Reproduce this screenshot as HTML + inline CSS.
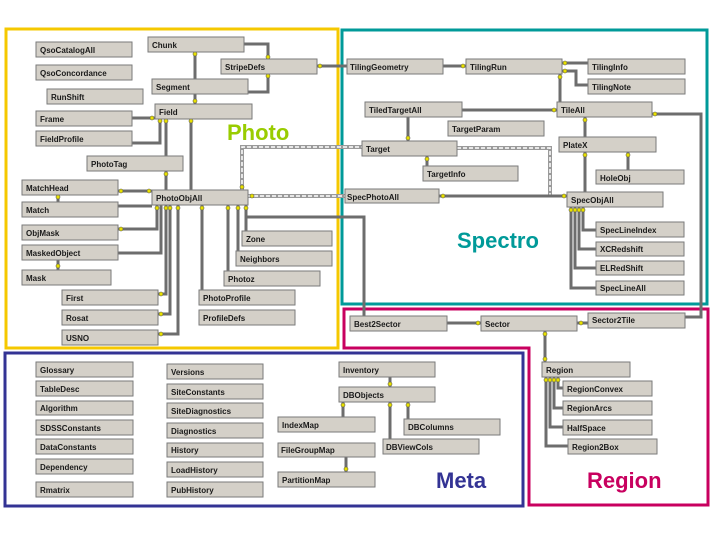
<!DOCTYPE html>
<html><head><meta charset="utf-8"><style>
html,body{margin:0;padding:0;background:#fff}
svg{display:block}
.b rect{fill:#d4d0c8;stroke:#7a7a7a;stroke-width:1}
.b text{font-family:"Liberation Sans",sans-serif;font-size:8px;font-weight:bold;fill:#1a1a1a}
.c{fill:none;stroke:#6d6d6d;stroke-width:3}
.ci{fill:none;stroke:#e6e6e6;stroke-width:1}
.d{fill:none;stroke:#9a9a9a;stroke-width:4}
.di{fill:none;stroke:#fff;stroke-width:1.5;stroke-dasharray:4 2}
.k{fill:#e8e000;stroke:#555;stroke-width:.6}
.t{font-family:"Liberation Sans",sans-serif;font-weight:bold;font-size:22px}
</style></head><body>
<svg width="720" height="540" viewBox="0 0 720 540" xmlns="http://www.w3.org/2000/svg">
<!-- frames -->
<rect x="6" y="29" width="332" height="319" fill="none" stroke="#f5c800" stroke-width="3"/>
<rect x="342" y="30" width="365" height="274" fill="none" stroke="#009a99" stroke-width="3"/>
<path d="M344 309 H708 V505 H529 V348 H344 Z" fill="none" stroke="#c8005f" stroke-width="3"/>
<rect x="5" y="353" width="518" height="153" fill="none" stroke="#333394" stroke-width="3"/>
<text class="t" x="227" y="140" fill="#99cc00">Photo</text>
<text class="t" x="457" y="248" fill="#009a99">Spectro</text>
<text class="t" x="436" y="488" fill="#333394">Meta</text>
<text class="t" x="587" y="488" fill="#c8005f">Region</text>

<!-- dashed double connectors -->
<g>
<path class="d" d="M242 190 V147 H362"/><path class="di" d="M242 190 V147 H362"/>
<path class="d" d="M457 148 H550 V196"/><path class="di" d="M457 148 H550 V196"/>
<path class="d" d="M248 196 H345"/><path class="di" d="M248 196 H345"/>
</g>
<!-- connectors -->
<g id="cn">
<path class="c" d="M244 44 H268 V59"/>
<path class="c" d="M248 92 H268 V74"/>
<path class="c" d="M195 52 V79"/>
<path class="c" d="M195 94 V104"/>
<path class="c" d="M317 66 H347"/>
<path class="c" d="M132 118 H155"/>
<path class="c" d="M132 143 H160 V119"/>
<path class="c" d="M166 119 V156"/>
<path class="c" d="M191 119 V190"/>
<path class="c" d="M166 171 V190"/>
<path class="c" d="M246 205 V217 H364 V316"/>
<path class="c" d="M118 191 H152"/>
<path class="c" d="M118 206 H152"/>
<path class="c" d="M58 195 V202"/>
<path class="c" d="M118 229 H157 V205"/>
<path class="c" d="M118 253 H161 V205"/>
<path class="c" d="M58 260 V270"/>
<path class="c" d="M158 294 H166 V205"/>
<path class="c" d="M158 314 H170 V205"/>
<path class="c" d="M158 334 H178 V205"/>
<path class="c" d="M202 290 V205"/>
<path class="c" d="M228 271 V205"/>
<path class="c" d="M238 251 V205"/>
<path class="c" d="M246 231 V205"/>
<path class="c" d="M443 66 H466"/>
<path class="c" d="M562 63 H588"/>
<path class="c" d="M562 71 H576 V85 H588"/>
<path class="c" d="M560 74 V102"/>
<path class="c" d="M462 110 H557"/>
<path class="c" d="M408 117 V141"/>
<path class="c" d="M427 156 V166"/>
<path class="c" d="M439 196 H567"/>
<path class="c" d="M585 117 V137"/>
<path class="c" d="M628 152 V170"/>
<path class="c" d="M585 152 V192"/>
<path class="c" d="M652 114 H701 V317 H685"/>
<path class="c" d="M583 207 V230 H596"/>
<path class="c" d="M579 207 V249 H596"/>
<path class="c" d="M575 207 V268 H596"/>
<path class="c" d="M571 207 V288 H596"/>
<path class="c" d="M447 323 H481"/>
<path class="c" d="M577 323 H588"/>
<path class="c" d="M545 331 V362"/>
<path class="c" d="M558 377 V388 H563"/>
<path class="c" d="M554 377 V408 H563"/>
<path class="c" d="M550 377 V427 H563"/>
<path class="c" d="M546 377 V446 H568"/>
<path class="c" d="M390 377 V387"/>
<path class="c" d="M343 402 V417"/>
<path class="c" d="M390 402 V439"/>
<path class="c" d="M408 402 V419"/>
<path class="c" d="M346 457 V472"/>
</g>
<!-- key markers -->
<g>
<circle class="k" cx="268" cy="57" r="2"/><circle class="k" cx="268" cy="76" r="2"/>
<circle class="k" cx="195" cy="54" r="2"/><circle class="k" cx="195" cy="101" r="2"/>
<circle class="k" cx="320" cy="66" r="2"/><circle class="k" cx="152" cy="118" r="2"/>
<circle class="k" cx="160" cy="121" r="2"/><circle class="k" cx="166" cy="121" r="2"/>
<circle class="k" cx="191" cy="121" r="2"/><circle class="k" cx="166" cy="174" r="2"/>
<circle class="k" cx="121" cy="191" r="2"/><circle class="k" cx="149" cy="191" r="2"/>
<circle class="k" cx="58" cy="197" r="2"/><circle class="k" cx="121" cy="229" r="2"/>
<circle class="k" cx="58" cy="266" r="2"/><circle class="k" cx="161" cy="294" r="2"/>
<circle class="k" cx="161" cy="314" r="2"/><circle class="k" cx="161" cy="334" r="2"/>
<circle class="k" cx="157" cy="208" r="2"/><circle class="k" cx="166" cy="208" r="2"/>
<circle class="k" cx="170" cy="208" r="2"/><circle class="k" cx="178" cy="208" r="2"/>
<circle class="k" cx="202" cy="208" r="2"/><circle class="k" cx="228" cy="208" r="2"/>
<circle class="k" cx="238" cy="208" r="2"/><circle class="k" cx="246" cy="208" r="2"/>
<circle class="k" cx="242" cy="187" r="2"/><circle class="k" cx="252" cy="196" r="2"/>
<circle class="k" cx="463" cy="66" r="2"/><circle class="k" cx="565" cy="63" r="2"/>
<circle class="k" cx="565" cy="71" r="2"/><circle class="k" cx="560" cy="77" r="2"/>
<circle class="k" cx="554" cy="110" r="2"/><circle class="k" cx="408" cy="138" r="2"/>
<circle class="k" cx="427" cy="159" r="2"/><circle class="k" cx="443" cy="196" r="2"/>
<circle class="k" cx="564" cy="196" r="2"/><circle class="k" cx="585" cy="120" r="2"/>
<circle class="k" cx="585" cy="155" r="2"/><circle class="k" cx="628" cy="155" r="2"/>
<circle class="k" cx="655" cy="114" r="2"/><circle class="k" cx="583" cy="210" r="2"/>
<circle class="k" cx="579" cy="210" r="2"/><circle class="k" cx="575" cy="210" r="2"/>
<circle class="k" cx="571" cy="210" r="2"/><circle class="k" cx="478" cy="323" r="2"/>
<circle class="k" cx="581" cy="323" r="2"/><circle class="k" cx="545" cy="334" r="2"/>
<circle class="k" cx="545" cy="359" r="2"/><circle class="k" cx="546" cy="380" r="2"/>
<circle class="k" cx="550" cy="380" r="2"/><circle class="k" cx="554" cy="380" r="2"/>
<circle class="k" cx="558" cy="380" r="2"/><circle class="k" cx="390" cy="384" r="2"/>
<circle class="k" cx="343" cy="405" r="2"/><circle class="k" cx="390" cy="405" r="2"/>
<circle class="k" cx="408" cy="405" r="2"/><circle class="k" cx="346" cy="469" r="2"/>
</g>

<!-- boxes -->
<g class="b">
<rect x="36" y="42" width="96" height="15"/><text x="40" y="53">QsoCatalogAll</text>
<rect x="36" y="65" width="96" height="15"/><text x="40" y="76">QsoConcordance</text>
<rect x="47" y="89" width="96" height="15"/><text x="51" y="100">RunShift</text>
<rect x="36" y="111" width="96" height="15"/><text x="40" y="122">Frame</text>
<rect x="36" y="131" width="96" height="15"/><text x="40" y="142">FieldProfile</text>
<rect x="148" y="37" width="96" height="15"/><text x="152" y="48">Chunk</text>
<rect x="221" y="59" width="96" height="15"/><text x="225" y="70">StripeDefs</text>
<rect x="152" y="79" width="96" height="15"/><text x="156" y="90">Segment</text>
<rect x="155" y="104" width="97" height="15"/><text x="159" y="115">Field</text>
<rect x="87" y="156" width="96" height="15"/><text x="91" y="167">PhotoTag</text>
<rect x="22" y="180" width="96" height="15"/><text x="26" y="191">MatchHead</text>
<rect x="22" y="202" width="96" height="15"/><text x="26" y="213">Match</text>
<rect x="22" y="225" width="96" height="15"/><text x="26" y="236">ObjMask</text>
<rect x="22" y="245" width="96" height="15"/><text x="26" y="256">MaskedObject</text>
<rect x="22" y="270" width="89" height="15"/><text x="26" y="281">Mask</text>
<rect x="152" y="190" width="96" height="15"/><text x="156" y="201">PhotoObjAll</text>
<rect x="242" y="231" width="90" height="15"/><text x="246" y="242">Zone</text>
<rect x="236" y="251" width="96" height="15"/><text x="240" y="262">Neighbors</text>
<rect x="224" y="271" width="96" height="15"/><text x="228" y="282">Photoz</text>
<rect x="62" y="290" width="96" height="15"/><text x="66" y="301">First</text>
<rect x="62" y="310" width="96" height="15"/><text x="66" y="321">Rosat</text>
<rect x="62" y="330" width="96" height="15"/><text x="66" y="341">USNO</text>
<rect x="199" y="290" width="96" height="15"/><text x="203" y="301">PhotoProfile</text>
<rect x="199" y="310" width="96" height="15"/><text x="203" y="321">ProfileDefs</text>

<rect x="347" y="59" width="96" height="15"/><text x="350" y="70">TilingGeometry</text>
<rect x="466" y="59" width="96" height="15"/><text x="470" y="70">TilingRun</text>
<rect x="588" y="59" width="97" height="15"/><text x="592" y="70">TilingInfo</text>
<rect x="588" y="79" width="97" height="15"/><text x="592" y="90">TilingNote</text>
<rect x="365" y="102" width="97" height="15"/><text x="369" y="113">TiledTargetAll</text>
<rect x="557" y="102" width="95" height="15"/><text x="561" y="113">TileAll</text>
<rect x="448" y="121" width="96" height="15"/><text x="452" y="132">TargetParam</text>
<rect x="362" y="141" width="95" height="15"/><text x="366" y="152">Target</text>
<rect x="559" y="137" width="97" height="15"/><text x="563" y="148">PlateX</text>
<rect x="423" y="166" width="95" height="15"/><text x="427" y="177">TargetInfo</text>
<rect x="596" y="170" width="88" height="14"/><text x="600" y="181">HoleObj</text>
<rect x="345" y="189" width="94" height="14"/><text x="347" y="200">SpecPhotoAll</text>
<rect x="567" y="192" width="96" height="15"/><text x="571" y="203">SpecObjAll</text>
<rect x="596" y="222" width="88" height="15"/><text x="600" y="233">SpecLineIndex</text>
<rect x="596" y="242" width="88" height="14"/><text x="600" y="252">XCRedshift</text>
<rect x="596" y="261" width="88" height="14"/><text x="600" y="271">ELRedShift</text>
<rect x="596" y="281" width="88" height="14"/><text x="600" y="291">SpecLineAll</text>

<rect x="350" y="316" width="97" height="15"/><text x="354" y="327">Best2Sector</text>
<rect x="481" y="316" width="96" height="15"/><text x="485" y="327">Sector</text>
<rect x="588" y="313" width="97" height="15"/><text x="592" y="323">Sector2Tile</text>
<rect x="542" y="362" width="88" height="15"/><text x="546" y="373">Region</text>
<rect x="563" y="381" width="89" height="15"/><text x="567" y="392">RegionConvex</text>
<rect x="563" y="401" width="89" height="14"/><text x="567" y="411">RegionArcs</text>
<rect x="563" y="420" width="89" height="15"/><text x="567" y="431">HalfSpace</text>
<rect x="568" y="439" width="89" height="15"/><text x="572" y="450">Region2Box</text>

<rect x="36" y="362" width="97" height="15"/><text x="40" y="373">Glossary</text>
<rect x="36" y="381" width="97" height="15"/><text x="40" y="392">TableDesc</text>
<rect x="36" y="401" width="97" height="14"/><text x="40" y="411">Algorithm</text>
<rect x="36" y="420" width="97" height="15"/><text x="40" y="431">SDSSConstants</text>
<rect x="36" y="439" width="97" height="15"/><text x="40" y="450">DataConstants</text>
<rect x="36" y="459" width="97" height="15"/><text x="40" y="470">Dependency</text>
<rect x="36" y="482" width="97" height="15"/><text x="40" y="493">Rmatrix</text>
<rect x="167" y="364" width="96" height="15"/><text x="171" y="375">Versions</text>
<rect x="167" y="384" width="96" height="15"/><text x="171" y="395">SiteConstants</text>
<rect x="167" y="403" width="96" height="15"/><text x="171" y="414">SiteDiagnostics</text>
<rect x="167" y="423" width="96" height="15"/><text x="171" y="434">Diagnostics</text>
<rect x="167" y="443" width="96" height="14"/><text x="171" y="453">History</text>
<rect x="167" y="462" width="96" height="15"/><text x="171" y="473">LoadHistory</text>
<rect x="167" y="482" width="96" height="15"/><text x="171" y="493">PubHistory</text>
<rect x="278" y="417" width="97" height="15"/><text x="282" y="428">IndexMap</text>
<rect x="278" y="443" width="97" height="14"/><text x="281" y="453">FileGroupMap</text>
<rect x="278" y="472" width="97" height="15"/><text x="282" y="483">PartitionMap</text>
<rect x="339" y="362" width="96" height="15"/><text x="343" y="373">Inventory</text>
<rect x="339" y="387" width="96" height="15"/><text x="343" y="398">DBObjects</text>
<rect x="404" y="419" width="96" height="16"/><text x="408" y="430">DBColumns</text>
<rect x="383" y="439" width="96" height="15"/><text x="386" y="450">DBViewCols</text>
</g>
</svg>
</body></html>
